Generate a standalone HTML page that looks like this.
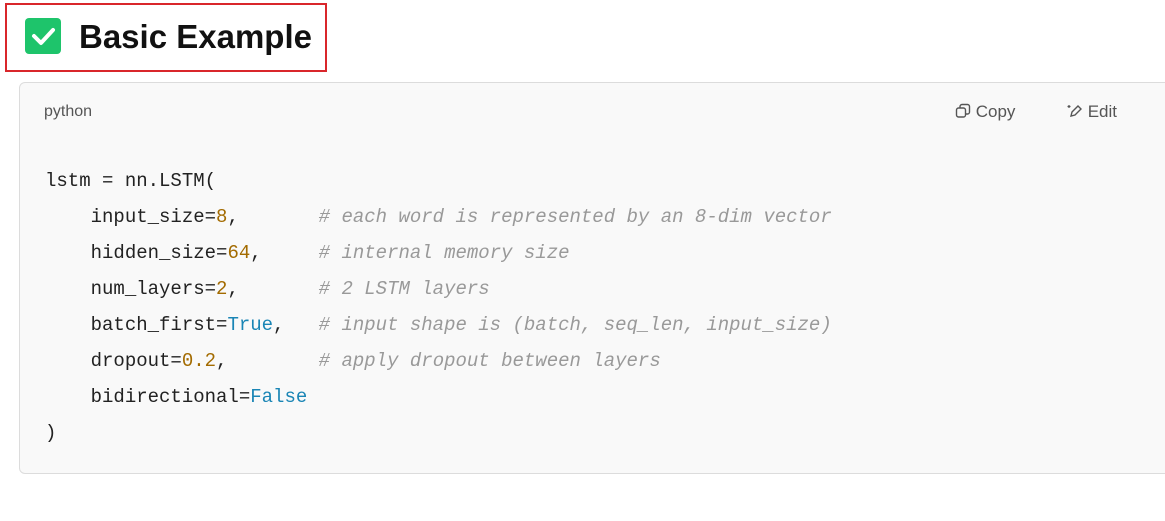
<!DOCTYPE html>
<html><head><style>
body{margin:0;width:1165px;height:521px;background:#fff;position:relative;overflow:hidden;font-family:"Liberation Sans",sans-serif}
.red{position:absolute;left:5px;top:3px;width:318px;height:65px;border:2px solid #d9262b}
.chk{position:absolute;left:25px;top:18px;width:36px;height:36px;background:#1ec46b;border-radius:4px}
.title{position:absolute;left:79px;top:18px;font-size:33px;font-weight:bold;color:#111}
.code{position:absolute;left:19px;top:82px;width:1160px;height:390px;background:#f9f9f9;border:1px solid #dcdcdc;border-radius:6px}
.lang{position:absolute;left:44px;top:103px;font-size:16px;color:#555}
.btn{position:absolute;top:102px;font-size:17px;color:#555}
pre{position:absolute;left:45px;top:163px;margin:0;font-family:"Liberation Mono",monospace;font-size:19px;line-height:36px;color:#222}
.c{color:#999;font-style:italic}.n{color:#a36b00}.k{color:#1a85b5}
</style></head><body>
<div class="red"></div>
<div class="chk"><svg width="36" height="36"><path d="M9 18 L16 25 L28 12" stroke="#fff" stroke-width="4" fill="none" stroke-linecap="round" stroke-linejoin="round"/></svg></div>
<div class="title">Basic Example</div>
<div class="code"></div>
<div class="lang">python</div>
<div class="btn" style="left:955px"><svg width="16" height="16" style="vertical-align:-2px"><rect x="1.5" y="5" width="9" height="9" rx="2" fill="none" stroke="#555" stroke-width="1.4"/><path d="M5 5V3.5a2 2 0 0 1 2-2h5.5a2 2 0 0 1 2 2V9a2 2 0 0 1-2 2H10.5" fill="none" stroke="#555" stroke-width="1.4"/></svg> Copy</div>
<div class="btn" style="left:1067px"><svg width="16" height="16" style="vertical-align:-2px"><path d="M4 13 L5 9 L11 3 L14 6 L8 12 Z" fill="none" stroke="#555" stroke-width="1.4"/><path d="M2 2v3M0.5 3.5h3" stroke="#555" stroke-width="1.2"/></svg> Edit</div>
<pre>lstm = nn.LSTM(
    input_size=<span class="n">8</span>,       <span class="c"># each word is represented by an 8-dim vector</span>
    hidden_size=<span class="n">64</span>,     <span class="c"># internal memory size</span>
    num_layers=<span class="n">2</span>,       <span class="c"># 2 LSTM layers</span>
    batch_first=<span class="k">True</span>,   <span class="c"># input shape is (batch, seq_len, input_size)</span>
    dropout=<span class="n">0.2</span>,        <span class="c"># apply dropout between layers</span>
    bidirectional=<span class="k">False</span>
)</pre>
</body></html>
